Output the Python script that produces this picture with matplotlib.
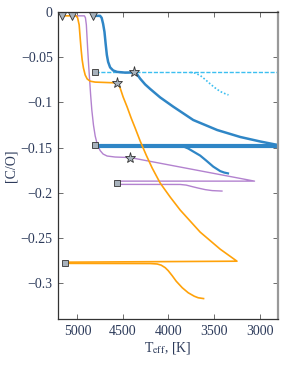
import matplotlib
matplotlib.use('Agg')
import matplotlib.pyplot as plt

# 颜色
c_blue = '#2f86c6'
c_lblue = '#3cbff0'
c_orange = '#ffa20a'
c_purple = '#b382cf'
c_marker = '#a8b2bc'
c_text = '#2c3a5a'

# 蓝色主轨迹
blue_T = [4831, 4751, 4734, 4718, 4703, 4690, 4677, 4663, 4641, 4608, 4564, 4476, 4374, 4344, 4311, 4256,
          4201, 4091, 3948, 3728, 3465, 3212, 2992, 2798]
blue_C = [-0.0041, -0.0041, -0.0063, -0.0130, -0.0219, -0.0352, -0.0474, -0.0551, -0.0612, -0.0646, -0.0662,
          -0.0670, -0.0668, -0.0690, -0.0737, -0.0801, -0.0851, -0.0945, -0.1047, -0.1195, -0.1306, -0.1383,
          -0.1433, -0.1472]

# 浅蓝虚线 / 点线
lblue_dash_T = [4805, 2798]
lblue_dash_C = [-0.0668, -0.0668]
lblue_dot_T = [3761, 3706, 3652, 3597, 3542, 3487, 3432, 3377, 3341]
lblue_dot_C = [-0.0667, -0.0676, -0.0701, -0.0746, -0.0795, -0.0840, -0.0879, -0.0904, -0.0917]

# 蓝色粗水平线及分支
blue_h_T = [4805, 2798]
blue_h_C = [-0.1480, -0.1480]
blue_br_T = [4805, 3871, 3827, 3783, 3728, 3652, 3586, 3509, 3432, 3388, 3347]
blue_br_C = [-0.1485, -0.1487, -0.1492, -0.1511, -0.1544, -0.1589, -0.1644, -0.1711, -0.1761, -0.1777, -0.1786]

# 橙色主轨迹
orange_T = [5165, 5014, 4998, 4981, 4970, 4959, 4948, 4934, 4915, 4893, 4860, 4805, 4696, 4567, 4547, 4531,
            4498, 4454, 4410, 4366, 4311, 4245, 4179, 4091, 3981, 3871, 3652, 3432, 3248, 5135]
orange_C = [-0.0041, -0.0041, -0.0063, -0.0141, -0.0285, -0.0418, -0.0529, -0.0618, -0.0696, -0.0740, -0.0765,
            -0.0775, -0.0779, -0.0784, -0.0807, -0.0840, -0.0940, -0.1051, -0.1173, -0.1284, -0.1428, -0.1583,
            -0.1727, -0.1894, -0.2049, -0.2193, -0.2437, -0.2626, -0.2759, -0.2770]
orange2_T = [5135, 4201, 4124, 4080, 4036, 4003, 3959, 3915, 3849, 3783, 3717, 3674, 3615]
orange2_C = [-0.2783, -0.2785, -0.2790, -0.2803, -0.2831, -0.2864, -0.2920, -0.2981, -0.3053, -0.3109, -0.3147,
             -0.3164, -0.3173]

# 紫色主轨迹
purple_T = [5062, 4923, 4912, 4902, 4896, 4887, 4877, 4866, 4855, 4842, 4824, 4805, 4783, 4751, 4718, 4674,
            4586, 4421, 3055, 4560]
purple_C = [-0.0041, -0.0041, -0.0063, -0.0141, -0.0252, -0.0418, -0.0585, -0.0751, -0.0917, -0.1084, -0.1250,
            -0.1372, -0.1461, -0.1533, -0.1572, -0.1594, -0.1605, -0.1611, -0.1872, -0.1872]
purple2_T = [4560, 3871, 3805, 3739, 3674, 3597, 3520, 3413]
purple2_C = [-0.1908, -0.1909, -0.1916, -0.1933, -0.1949, -0.1966, -0.1977, -0.1982]

# 标记
tri_T = [5165, 5062, 4831]
tri_C = [-0.0041, -0.0041, -0.0041]
sq_T = [4805, 4805, 4560, 5135]
sq_C = [-0.0666, -0.1472, -0.1890, -0.2775]
star_T = [4374, 4567, 4421]
star_C = [-0.0668, -0.0784, -0.1611]

plt.rcParams['font.family'] = ['Liberation Serif', 'DejaVu Serif']
plt.rcParams['mathtext.fontset'] = 'stix'

fig = plt.figure(figsize=(2.93, 3.68), dpi=100)
ax = fig.add_axes([0.199, 0.133, 0.749, 0.834])

ax.plot(lblue_dash_T, lblue_dash_C, color=c_lblue, lw=1.0, ls=(0, (3, 1.2)))
ax.plot(lblue_dot_T, lblue_dot_C, color=c_lblue, lw=1.2, ls=(0, (1, 1.2)))
ax.plot(purple_T, purple_C, color=c_purple, lw=1.0)
ax.plot(purple2_T, purple2_C, color=c_purple, lw=1.0)
ax.plot(blue_h_T, blue_h_C, color=c_blue, lw=3.0)
ax.plot(blue_br_T, blue_br_C, color=c_blue, lw=1.6)
ax.plot(blue_T, blue_C, color=c_blue, lw=1.8)
ax.plot(orange_T, orange_C, color=c_orange, lw=1.2)
ax.plot(orange2_T, orange2_C, color=c_orange, lw=1.2)

ax.plot(tri_T, tri_C, 'v', ms=5.5, mfc=c_marker, mec='#333333', mew=0.6, ls='none')
ax.plot(sq_T, sq_C, 's', ms=4.5, mfc=c_marker, mec='#333333', mew=0.6, ls='none')
ax.plot(star_T, star_C, '*', ms=8, mfc=c_marker, mec='#333333', mew=0.6, ls='none')

ax.set_xlim(5210, 2800)
ax.set_ylim(-0.34, 0)
ax.set_xticks([5000, 4500, 4000, 3500, 3000])
ax.set_yticks([0, -0.05, -0.1, -0.15, -0.2, -0.25, -0.3])
ax.set_yticklabels(['0', '\u22120.05', '\u22120.1', '\u22120.15', '\u22120.2', '\u22120.25', '\u22120.3'])
ax.tick_params(direction='in', top=True, right=True, length=3.5, width=0.6,
               labelsize=10, labelcolor=c_text, color='#555555', pad=4)
for s in ['left', 'bottom', 'top']:
    ax.spines[s].set_color('#333333')
    ax.spines[s].set_linewidth(0.9)
ax.spines['right'].set_color('#999999')
ax.spines['right'].set_linewidth(1.6)

ax.set_xlabel(r'T$_{\mathrm{eff}}$, [K]', fontsize=10, color=c_text, labelpad=2)
ax.set_ylabel('[C/O]', fontsize=10, color=c_text, labelpad=2)

plt.savefig('out.png', dpi=100)
